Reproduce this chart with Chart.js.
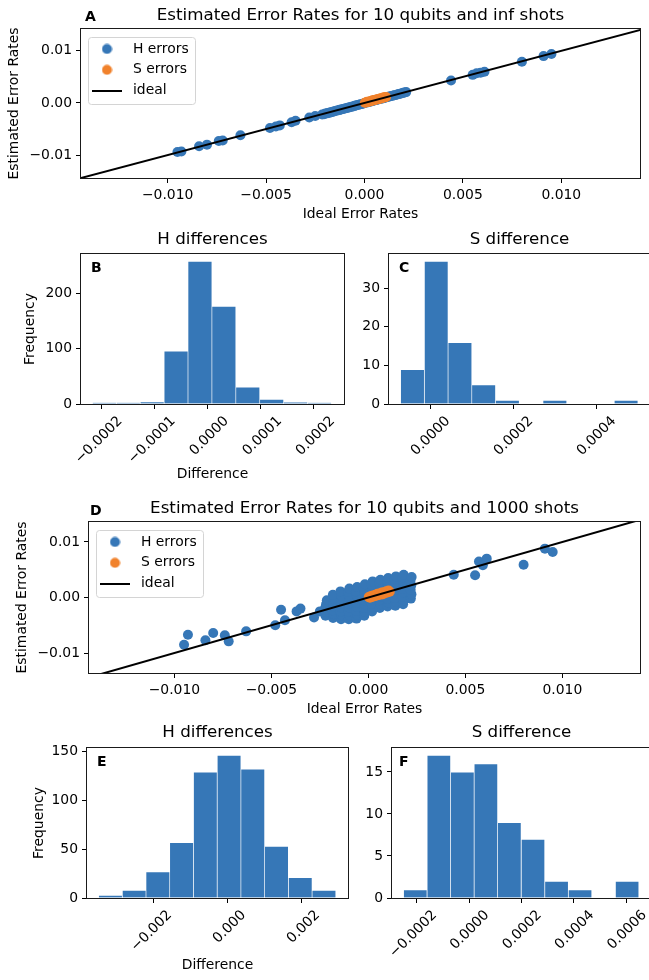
<!DOCTYPE html>
<html><head><meta charset="utf-8">
<script src="https://cdn.jsdelivr.net/npm/chart.js@4.4.0/dist/chart.umd.min.js"></script>
<style>
html,body{margin:0;padding:0;background:#fff;overflow:hidden;width:649px;height:980px;position:relative;}
canvas{position:absolute;left:0;top:0;}
</style></head><body>
<canvas id="cA" width="660" height="980"></canvas>
<canvas id="cB" width="660" height="980"></canvas>
<canvas id="cC" width="660" height="980"></canvas>
<canvas id="cD" width="660" height="980"></canvas>
<canvas id="cE" width="660" height="980"></canvas>
<canvas id="cF" width="660" height="980"></canvas>
<script>
// ---------- DATA ----------
// Ideal H error rates of the isolated (outlying) points, shared by both scatter panels
const hIdealOutliers = [-0.0095,-0.0093,-0.0084,-0.0080,-0.0074,-0.0072,-0.0063,-0.0048,-0.0045,-0.0043,-0.0037,-0.0035,-0.0028,-0.0025,0.0044,0.0055,0.0057,0.0059,0.0061,0.0080,0.0091,0.0095];
// Estimated H rates for those points, inf shots (A) and 1000 shots (D)
const hEstInfOutliers = [-0.0094,-0.0093,-0.0083,-0.0080,-0.0073,-0.0072,-0.0062,-0.0048,-0.0045,-0.0043,-0.0037,-0.0034,-0.0028,-0.0025,0.0043,0.0054,0.0057,0.0058,0.0060,0.0079,0.0090,0.0094];
const hEst1000Outliers = [-0.0085,-0.0067,-0.0077,-0.0064,-0.0068,-0.0079,-0.0061,-0.0050,-0.0022,-0.0041,-0.0025,-0.0020,-0.0036,-0.0025,0.0041,0.0040,0.0065,0.0058,0.0070,0.0059,0.0088,0.0082];

// Dense H cluster, inf shots (A)
const hIdealClusterInf = [-0.00215,-0.00205,-0.00198,-0.00190,-0.00184,-0.00176,-0.00170,-0.00161,-0.00155,-0.00148,-0.00139,-0.00131,-0.00126,-0.00118,-0.00110,-0.00103,-0.00095,-0.00088,-0.00080,-0.00074,-0.00066,-0.00058,-0.00050,-0.00043,-0.00035,-0.00028,-0.00020,-0.00012,-0.00005,0.00003,0.00011,0.00019,0.00026,0.00034,0.00042,0.00051,0.00058,0.00066,0.00073,0.00081,0.00090,0.00097,0.00105,0.00113,0.00121,0.00128,0.00136,0.00144,0.00151,0.00159,0.00167,0.00174,0.00182,0.00190,0.00197,0.00204,0.00212];
const hEstClusterInf = [-0.00222,-0.00214,-0.00203,-0.00199,-0.00190,-0.00185,-0.00177,-0.00168,-0.00165,-0.00155,-0.00146,-0.00140,-0.00132,-0.00126,-0.00116,-0.00111,-0.00101,-0.00096,-0.00086,-0.00081,-0.00071,-0.00066,-0.00055,-0.00050,-0.00040,-0.00034,-0.00024,-0.00018,-0.00009,-0.00002,0.00008,0.00014,0.00023,0.00029,0.00039,0.00046,0.00055,0.00061,0.00070,0.00077,0.00087,0.00093,0.00102,0.00109,0.00118,0.00124,0.00133,0.00140,0.00148,0.00155,0.00164,0.00170,0.00179,0.00186,0.00194,0.00201,0.00209];

// Dense H cluster, 1000 shots (D)
const hIdealCluster1000 = [
 -0.00221,-0.00217,-0.00223,-0.00218,-0.00214,
 -0.00182,-0.00178,-0.00184,-0.00179,-0.00181,-0.00177,-0.00183,
 -0.00141,-0.00138,-0.00143,-0.00139,-0.00142,-0.00137,-0.00140,-0.00144,
 -0.00101,-0.00098,-0.00103,-0.00099,-0.00102,-0.00097,-0.00100,-0.00104,-0.00098,
 -0.00061,-0.00058,-0.00063,-0.00059,-0.00062,-0.00057,-0.00060,-0.00064,-0.00058,
 -0.00021,-0.00018,-0.00023,-0.00019,-0.00022,-0.00017,-0.00020,-0.00024,-0.00018,
 0.00019,0.00022,0.00017,0.00021,0.00018,0.00023,0.00020,0.00016,0.00022,
 0.00059,0.00062,0.00057,0.00061,0.00058,0.00063,0.00060,0.00056,0.00062,
 0.00099,0.00102,0.00097,0.00101,0.00098,0.00103,0.00100,0.00096,0.00102,
 0.00139,0.00142,0.00137,0.00141,0.00138,0.00143,0.00140,0.00136,0.00142,
 0.00179,0.00182,0.00177,0.00181,0.00178,0.00183,0.00180,0.00176,0.00182,
 0.00219,0.00222,0.00218,0.00221,0.00217,0.00223];
const hEstCluster1000 = [
 -0.0033,-0.0026,-0.0019,-0.0012,-0.0005,
 -0.0037,-0.0030,-0.0023,-0.0016,-0.0009,-0.0002,0.0005,
 -0.0039,-0.0032,-0.0025,-0.0018,-0.0011,-0.0004,0.0003,0.0011,
 -0.0039,-0.0032,-0.0025,-0.0018,-0.0011,-0.0004,0.0003,0.0010,0.0016,
 -0.0038,-0.0031,-0.0024,-0.0017,-0.0010,-0.0003,0.0004,0.0011,0.0019,
 -0.0033,-0.0026,-0.0019,-0.0012,-0.0005,0.0002,0.0009,0.0016,0.0024,
 -0.0025,-0.0018,-0.0011,-0.0004,0.0003,0.0010,0.0017,0.0023,0.0029,
 -0.0019,-0.0012,-0.0005,0.0002,0.0009,0.0016,0.0023,0.0028,0.0032,
 -0.0016,-0.0009,-0.0002,0.0005,0.0012,0.0019,0.0026,0.0031,0.0035,
 -0.0015,-0.0008,-0.0001,0.0006,0.0013,0.0020,0.0027,0.0033,0.0038,
 -0.0012,-0.0005,0.0002,0.0009,0.0016,0.0023,0.0030,0.0036,0.0041,
 -0.0002,0.0006,0.0014,0.0022,0.0030,0.0037];

// S errors
const sIdeal   = [0.00002,0.00008,0.00013,0.00019,0.00024,0.00030,0.00036,0.00041,0.00047,0.00052,0.00058,0.00063,0.00069,0.00075,0.00080,0.00086,0.00092,0.00098,0.00104,0.00110];
const sEstInf  = [0.00004,0.00010,0.00022,0.00021,0.00030,0.00033,0.00040,0.00052,0.00050,0.00058,0.00061,0.00070,0.00072,0.00079,0.00086,0.00089,0.00096,0.00110,0.00108,0.00114];
const sEst1000 = [0.00010,-0.00005,0.00025,0.00008,0.00035,0.00022,0.00050,0.00030,0.00066,0.00045,0.00070,0.00052,0.00090,0.00060,0.00095,0.00080,0.00112,0.00090,0.00125,0.00105];

// ideal line end points (y = x)
const idealLine = [-0.015, 0.015];

// Histograms: bin edges and counts
const bEdges  = [-0.000216,-0.000171,-0.000126,-0.000081,-0.000036,0.000009,0.000054,0.000099,0.000144,0.000189,0.000234];
const bCounts = [2,2,4,96,258,177,31,9,3,2];
const cEdges  = [-0.0000723,-0.0000151,0.0000421,0.0000993,0.0001565,0.0002137,0.0002709,0.0003281,0.0003853,0.0004425,0.0004997];
const cCounts = [9,37,16,5,1,0,1,0,0,1];
const eEdges  = [-0.003483,-0.002841,-0.002200,-0.001558,-0.000917,-0.000275,0.000367,0.001008,0.001650,0.002291,0.002933];
const eCounts = [3,8,27,57,129,146,132,53,21,8];
const fEdges  = [-0.000249,-0.000159,-0.0000692,0.0000206,0.000110,0.000200,0.000290,0.000380,0.000469,0.000559,0.000649];
const fCounts = [1,17,15,16,9,7,2,1,0,2];

// Tick values and labels
const scX = [-0.01,-0.005,0,0.005,0.01];
const scXLabels = ['\u22120.010','\u22120.005','0.000','0.005','0.010'];
const scY = [-0.01,0,0.01];
const scYLabels = ['\u22120.01','0.00','0.01'];
const bX = [-0.0002,-0.0001,0,0.0001,0.0002];
const bXLabels = ['\u22120.0002','\u22120.0001','0.0000','0.0001','0.0002'];
const bY = [0,100,200];
const cX = [0,0.0002,0.0004];
const cXLabels = ['0.0000','0.0002','0.0004'];
const cY = [0,10,20,30];
const eX = [-0.002,0,0.002];
const eXLabels = ['\u22120.002','0.000','0.002'];
const eY = [0,50,100,150];
const fX = [-0.0002,0,0.0002,0.0004,0.0006];
const fXLabels = ['\u22120.0002','0.0000','0.0002','0.0004','0.0006'];
const fY = [0,5,10,15];

// ---------- STYLE / HELPERS ----------
const BLUE = '#3677b7', ORANGE = '#f1822c';
Chart.defaults.font.family = '"DejaVu Sans", sans-serif';
Chart.defaults.font.size = 13.9;
Chart.defaults.color = '#000';
Chart.defaults.animation = false;

function zip(xs, ys) { const n = Math.min(xs.length, ys.length); const out = []; for (let i = 0; i < n; i++) out.push({x: xs[i], y: ys[i]}); return out; }
function bars(edges, counts) { const out = []; for (let i = 0; i < counts.length; i++) out.push({x: (edges[i] + edges[i+1]) / 2, y: counts[i]}); return out; }
function yLabels(vals) { return vals.map(v => String(v)); }

function axis(o) {
  return {
    type: 'linear', min: o.min, max: o.max, offset: false, position: o.isX ? 'bottom' : 'left',
    afterBuildTicks: s => { s.ticks = o.ticks.map(v => ({value: v})); },
    afterFit: s => { if (o.isX) s.height = o.size; else s.width = o.size; s.paddingLeft = 0; s.paddingRight = 0; s.paddingTop = 0; s.paddingBottom = 0; },
    ticks: { autoSkip: false, callback: (v, i) => o.labels[i], padding: 4, maxRotation: o.rot || 0, minRotation: o.rot || 0, labelOffset: o.labelOffset || 0, color: '#000', font: {size: 13.9} },
    grid: { display: true, drawOnChartArea: false, drawTicks: true, tickLength: 5, tickColor: '#000', tickWidth: 1, offset: false },
    border: { display: false },
    title: o.title ? { display: true, text: o.title, padding: 0, color: '#000', font: {size: 13.9} } : { display: false }
  };
}

function circleIcon(color) { const c = document.createElement('canvas'); c.width = 11; c.height = 11; const g = c.getContext('2d'); g.fillStyle = color; g.beginPath(); g.arc(5.5, 5.5, 5, 0, Math.PI * 2); g.fill(); return c; }
function lineIcon() { const c = document.createElement('canvas'); c.width = 30; c.height = 2; const g = c.getContext('2d'); g.fillStyle = '#000'; g.fillRect(0, 0, 30, 2); return c; }
const legendIcons = [circleIcon(BLUE), circleIcon(ORANGE), lineIcon()];

const deco = {
  id: 'deco',
  afterLayout(chart) {
    const lg = chart.legend;
    if (lg && lg.options && lg.options.display && lg.options.position === 'chartArea') {
      const a = chart.chartArea;
      lg.left = a.left; lg.top = a.top; lg.right = a.right; lg.bottom = a.bottom;
    }
  },
  beforeDraw(chart, args, o) {
    if (!o.legendFrame) return;
    const a = chart.chartArea, ctx = chart.ctx;
    ctx.save(); ctx.beginPath();
    if (ctx.roundRect) ctx.roundRect(a.left + 7.5, a.top + 8.5, 107, 67, 3); else ctx.rect(a.left + 7.5, a.top + 8.5, 107, 67);
    ctx.fillStyle = 'rgba(255,255,255,0.8)'; ctx.fill();
    ctx.strokeStyle = '#d4d4d4'; ctx.lineWidth = 1; ctx.stroke(); ctx.restore();
  },
  afterDraw(chart, args, o) {
    const a = chart.chartArea, ctx = chart.ctx;
    ctx.save(); ctx.strokeStyle = '#1a1a1a'; ctx.lineWidth = 1;
    const l = Math.round(a.left), t = Math.round(a.top), r = Math.round(a.right), b = Math.round(a.bottom);
    ctx.strokeRect(l - 0.5, t - 0.5, r - l + 1, b - t + 1);
    if (o.letter) { ctx.font = 'bold 14px "DejaVu Sans"'; ctx.fillStyle = '#000'; ctx.textBaseline = 'middle'; ctx.textAlign = 'left'; ctx.fillText(o.letter, o.x, o.y); }
    ctx.restore();
  }
};

function titleOpt(text, pb) { return { display: true, text, fullSize: false, color: '#000', font: {size: 16.7, weight: 'normal'}, padding: {top: 0, bottom: pb} }; }

function scatterChart(id, title, letter, hPts, sPts, lay, yMin, yMax) {
  return new Chart(document.getElementById(id), {
    type: 'scatter',
    data: { datasets: [
      { label: 'H errors', data: hPts, backgroundColor: BLUE, borderWidth: 0, pointRadius: 5, order: 3 },
      { label: 'S errors', data: sPts, backgroundColor: ORANGE, borderWidth: 0, pointRadius: 5, order: 2 },
      { label: 'ideal', data: zip(idealLine, idealLine), showLine: true, borderColor: '#000', backgroundColor: '#000', borderWidth: 2, pointRadius: 0, order: 1 }
    ]},
    options: {
      responsive: false, events: [],
      layout: { padding: { left: lay.pl, top: lay.pt, right: lay.pr, bottom: lay.pb } },
      scales: {
        x: axis({isX: true, min: -0.0144, max: 0.0140, ticks: scX, labels: scXLabels, size: lay.hx, title: 'Ideal Error Rates'}),
        y: axis({isX: false, min: yMin, max: yMax, ticks: scY, labels: scYLabels, size: lay.wy, title: 'Estimated Error Rates'})
      },
      plugins: {
        title: titleOpt(title, lay.tpb),
        tooltip: { enabled: false },
        legend: {
          display: true, position: 'chartArea', align: 'start',
          title: { display: true, text: '', font: {size: 1}, padding: {top: 0, bottom: 4.8} },
          labels: { usePointStyle: true, pointStyleWidth: 38, padding: 7, color: '#000', font: {size: 13.9},
            sort: (a, b) => a.datasetIndex - b.datasetIndex,
            generateLabels: (chart) => { const items = Chart.defaults.plugins.legend.labels.generateLabels(chart); items.forEach(it => { it.pointStyle = legendIcons[it.datasetIndex]; }); return items; } }
        },
        deco: { letter: letter.t, x: letter.x, y: letter.y, legendFrame: true }
      }
    },
    plugins: [deco]
  });
}

function histChart(id, title, letter, edges, counts, lay, xo, yo) {
  return new Chart(document.getElementById(id), {
    type: 'bar',
    data: { datasets: [{ label: title, data: bars(edges, counts), backgroundColor: BLUE, borderColor: 'rgba(255,255,255,0.3)', borderWidth: {top: 1, right: 1, left: 0, bottom: 0}, borderSkipped: false, barPercentage: 1, categoryPercentage: 1 }]},
    options: {
      responsive: false, events: [],
      layout: { padding: { left: lay.pl, top: lay.pt, right: lay.pr, bottom: lay.pb } },
      scales: {
        x: axis(Object.assign({isX: true, size: lay.hx, rot: 45}, xo)),
        y: axis(Object.assign({isX: false, size: lay.wy, min: 0}, yo))
      },
      plugins: {
        title: titleOpt(title, lay.tpb),
        tooltip: { enabled: false },
        legend: { display: false },
        deco: { letter: letter.t, x: letter.x, y: letter.y, legendFrame: false }
      }
    },
    plugins: [deco]
  });
}

// ---------- CHARTS ----------
scatterChart('cA', 'Estimated Error Rates for 10 qubits and inf shots', {t: 'A', x: 85, y: 17},
  zip(hIdealOutliers.concat(hIdealClusterInf), hEstInfOutliers.concat(hEstClusterInf)), zip(sIdeal, sEstInf),
  {pl: 6, wy: 75, pt: 6, tpb: 2.96, pr: 20, hx: 45, pb: 757}, -0.0144, 0.0142);

scatterChart('cD', 'Estimated Error Rates for 10 qubits and 1000 shots', {t: 'D', x: 90, y: 511},
  zip(hIdealOutliers.concat(hIdealCluster1000), hEst1000Outliers.concat(hEstCluster1000)), zip(sIdeal, sEst1000),
  {pl: 14, wy: 75, pt: 499, tpb: 2.96, pr: 20, hx: 45, pb: 262}, -0.0136, 0.0136);

histChart('cB', 'H differences', {t: 'B', x: 91, y: 268}, bEdges, bCounts,
  {pl: 22, wy: 59, pt: 230, tpb: 3.96, pr: 316, hx: 79, pb: 497},
  {min: -0.000238, max: 0.000257, ticks: bX, labels: bXLabels, labelOffset: 19, title: 'Difference'},
  {max: 271, ticks: bY, labels: yLabels(bY), title: 'Frequency'});

histChart('cC', 'S difference', {t: 'C', x: 399, y: 268}, cEdges, cCounts,
  {pl: 349, wy: 40, pt: 230, tpb: 3.96, pr: 10, hx: 79, pb: 497},
  {min: -0.000101, max: 0.000528, ticks: cX, labels: cXLabels, labelOffset: 17},
  {max: 38.85, ticks: cY, labels: yLabels(cY)});

histChart('cE', 'H differences', {t: 'E', x: 97, y: 762}, eEdges, eCounts,
  {pl: 31, wy: 56, pt: 723, tpb: 4.96, pr: 312, hx: 76, pb: 6},
  {min: -0.003804, max: 0.003254, ticks: eX, labels: eXLabels, labelOffset: 16, title: 'Difference'},
  {max: 153.3, ticks: eY, labels: yLabels(eY), title: 'Frequency'});

histChart('cF', 'S difference', {t: 'F', x: 399, y: 762}, fEdges, fCounts,
  {pl: 352, wy: 40, pt: 723, tpb: 4.96, pr: 9, hx: 76, pb: 6},
  {min: -0.000294, max: 0.000694, ticks: fX, labels: fXLabels, labelOffset: 18},
  {max: 17.85, ticks: fY, labels: yLabels(fY)});
</script>
</body></html>
